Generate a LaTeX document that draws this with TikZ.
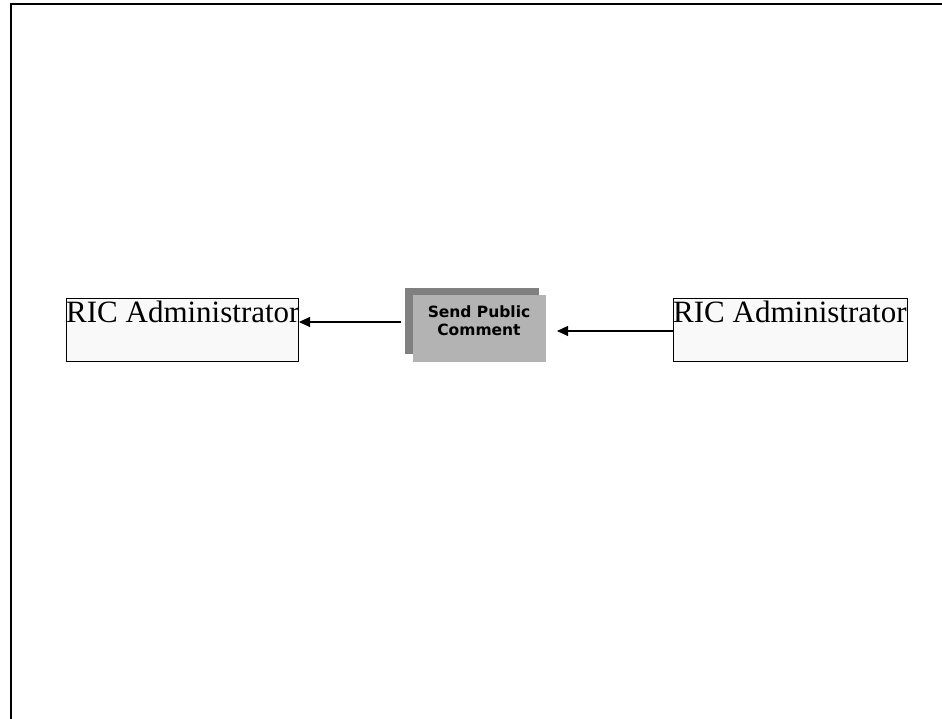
\documentclass[tikz,border=0pt]{standalone}
\usepackage{fontspec}
\setmainfont{Liberation Serif}
\newfontfamily\boxfont{DejaVu Sans}
\usetikzlibrary{arrows.meta}
\definecolor{boxfill}{HTML}{F9F9F9}
\definecolor{shadowgray}{HTML}{808080}
\definecolor{frontgray}{HTML}{B3B3B3}
\tikzset{
  actor/.style={draw=black, line width=1pt, fill=boxfill},
  conn/.style={draw=black, line width=1.2pt, -{Triangle[length=11pt,width=10pt]}},
  actortext/.style={font=\fontsize{31}{34}\selectfont, inner sep=0pt, anchor=base west},
}
\begin{document}
\begin{tikzpicture}[x=1pt,y=-1pt]
\useasboundingbox (0,0) rectangle (942,719);
% frame
\draw[line width=2pt] (11,722) -- (11,4) -- (945,4);
% left actor
\draw[actor] (66,298) rectangle (298,361);
\node[actortext] (left) at (66,323) {RIC Administrator};
\coordinate (leftend) at (299,322);
% right actor
\draw[actor] (673,298) rectangle (907,361);
\node[actortext] (right) at (673,323) {RIC Administrator};
\coordinate (rightstart) at (673,331);
% process box
\fill[shadowgray] (405,288) rectangle (539,354);
\fill[frontgray] (413,295) rectangle (546,362);
\node[font=\boxfont\bfseries\fontsize{15.5}{18}\selectfont, align=center, inner sep=0pt] (proc) at (479,321) {Send Public\\Comment};
\coordinate (procleft) at (401,322);
\coordinate (procright) at (557,331);
% connectors
\draw[conn] (procleft) -- (leftend);
\draw[conn] (rightstart) -- (procright);
\end{tikzpicture}
\end{document}
